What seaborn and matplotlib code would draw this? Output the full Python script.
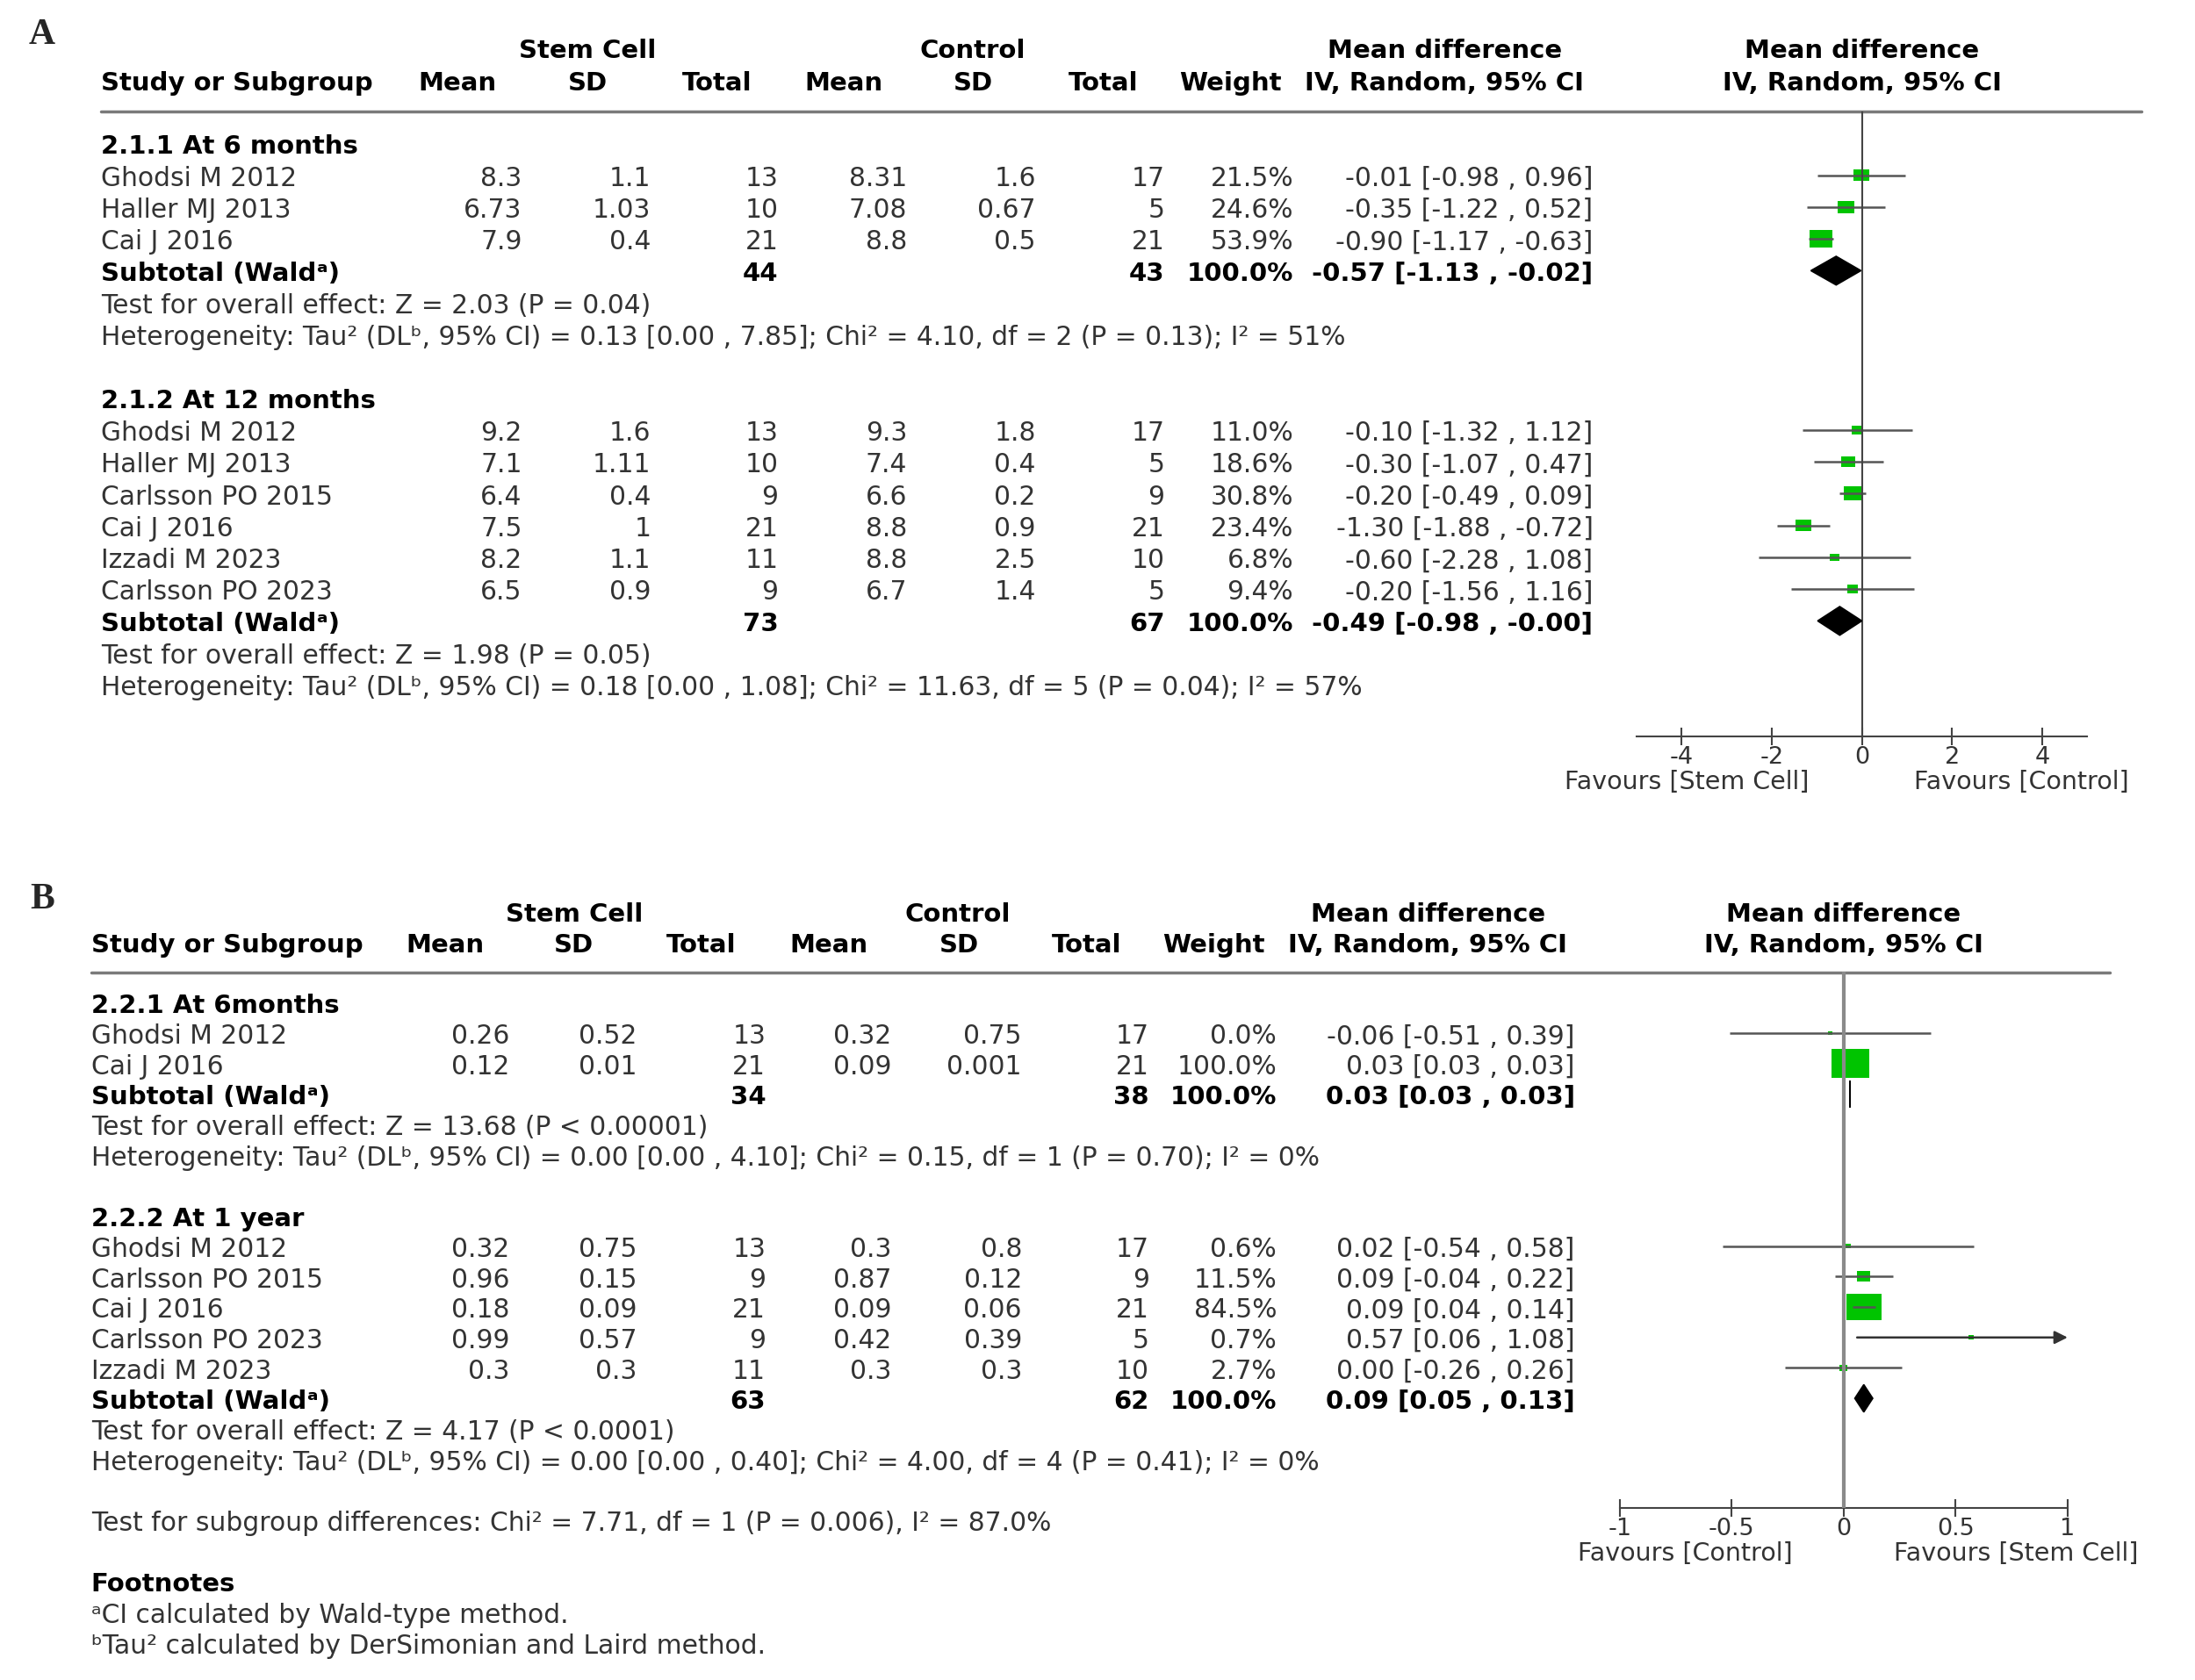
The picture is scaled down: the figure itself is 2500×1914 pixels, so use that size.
import pandas as pd
import seaborn as sns
import matplotlib.pyplot as plt
from matplotlib.path import Path
from matplotlib.transforms import blended_transform_factory

sns.set_theme(style="white")
plt.rcParams['font.family'] = ['DejaVu Sans']
plt.rcParams['axes.unicode_minus'] = False

# grid of the reference picture, only used to place things
W, H = 1568, 1201
FS = 21.4
FSB = 21
INK = '#333333'
GREEN = '#00c400'
DY = 0.08  # small downward nudge of text rows

# ---------------- panel A: HbA1c ----------------
a_groups = ["2.1.1 At 6 months", "2.1.2 At 12 months"]
a_grp = [0, 0, 0, 1, 1, 1, 1, 1, 1]
a_study = ["Ghodsi M 2012", "Haller MJ 2013", "Cai J 2016",
           "Ghodsi M 2012", "Haller MJ 2013", "Carlsson PO 2015",
           "Cai J 2016", "Izzadi M 2023", "Carlsson PO 2023"]
a_sc_mean = [8.3, 6.73, 7.9, 9.2, 7.1, 6.4, 7.5, 8.2, 6.5]
a_sc_sd = [1.1, 1.03, 0.4, 1.6, 1.11, 0.4, 1, 1.1, 0.9]
a_sc_n = [13, 10, 21, 13, 10, 9, 21, 11, 9]
a_ct_mean = [8.31, 7.08, 8.8, 9.3, 7.4, 6.6, 8.8, 8.8, 6.7]
a_ct_sd = [1.6, 0.67, 0.5, 1.8, 0.4, 0.2, 0.9, 2.5, 1.4]
a_ct_n = [17, 5, 21, 17, 5, 9, 21, 10, 5]
a_weight = [21.5, 24.6, 53.9, 11.0, 18.6, 30.8, 23.4, 6.8, 9.4]
a_md = [-0.01, -0.35, -0.90, -0.10, -0.30, -0.20, -1.30, -0.60, -0.20]
a_lo = [-0.98, -1.22, -1.17, -1.32, -1.07, -0.49, -1.88, -2.28, -1.56]
a_hi = [0.96, 0.52, -0.63, 1.12, 0.47, 0.09, -0.72, 1.08, 1.16]
a_sub_md = [-0.57, -0.49]
a_sub_lo = [-1.13, -0.98]
a_sub_hi = [-0.02, -0.00]
a_overall = ["Z = 2.03 (P = 0.04)", "Z = 1.98 (P = 0.05)"]
a_het = ["Heterogeneity: Tau² (DLᵇ, 95% CI) = 0.13 [0.00 , 7.85]; Chi² = 4.10, df = 2 (P = 0.13); I² = 51%",
         "Heterogeneity: Tau² (DLᵇ, 95% CI) = 0.18 [0.00 , 1.08]; Chi² = 11.63, df = 5 (P = 0.04); I² = 57%"]

# ---------------- panel B: C-peptide ----------------
b_groups = ["2.2.1 At 6months", "2.2.2 At 1 year"]
b_grp = [0, 0, 1, 1, 1, 1, 1]
b_study = ["Ghodsi M 2012", "Cai J 2016",
           "Ghodsi M 2012", "Carlsson PO 2015", "Cai J 2016",
           "Carlsson PO 2023", "Izzadi M 2023"]
b_sc_mean = [0.26, 0.12, 0.32, 0.96, 0.18, 0.99, 0.3]
b_sc_sd = [0.52, 0.01, 0.75, 0.15, 0.09, 0.57, 0.3]
b_sc_n = [13, 21, 13, 9, 21, 9, 11]
b_ct_mean = [0.32, 0.09, 0.3, 0.87, 0.09, 0.42, 0.3]
b_ct_sd = [0.75, 0.001, 0.8, 0.12, 0.06, 0.39, 0.3]
b_ct_n = [17, 21, 17, 9, 21, 5, 10]
b_weight = [0.0, 100.0, 0.6, 11.5, 84.5, 0.7, 2.7]
b_md = [-0.06, 0.03, 0.02, 0.09, 0.09, 0.57, 0.00]
b_lo = [-0.51, 0.03, -0.54, -0.04, 0.04, 0.06, -0.26]
b_hi = [0.39, 0.03, 0.58, 0.22, 0.14, 1.08, 0.26]
b_sub_md = [0.03, 0.09]
b_sub_lo = [0.03, 0.05]
b_sub_hi = [0.03, 0.13]
b_overall = ["Z = 13.68 (P < 0.00001)", "Z = 4.17 (P < 0.0001)"]
b_het = ["Heterogeneity: Tau² (DLᵇ, 95% CI) = 0.00 [0.00 , 4.10]; Chi² = 0.15, df = 1 (P = 0.70); I² = 0%",
         "Heterogeneity: Tau² (DLᵇ, 95% CI) = 0.00 [0.00 , 0.40]; Chi² = 4.00, df = 4 (P = 0.41); I² = 0%"]
b_subgroup_test = "Test for subgroup differences: Chi² = 7.71, df = 1 (P = 0.006), I² = 87.0%"

footnotes = ["ᵃCI calculated by Wald-type method.",
             "ᵇTau² calculated by DerSimonian and Laird method."]

col_heads = ['Mean', 'SD', 'Total', 'Mean', 'SD', 'Total', 'Weight']

box = Path([(-1.3, -1), (1.3, -1), (1.3, 1), (-1.3, 1), (-1.3, -1)],
           [Path.MOVETO, Path.LINETO, Path.LINETO, Path.LINETO, Path.CLOSEPOLY])


def layout_rows(grp, n_groups):
    study_rows, head_rows, sub_rows = [], [], []
    r = 0
    for g in range(n_groups):
        head_rows.append(r)
        k = grp.count(g)
        study_rows += list(range(r + 1, r + 1 + k))
        sub_rows.append(r + 1 + k)
        r = r + k + 5
    return study_rows, head_rows, sub_rows, r


def draw_panel(fig, lay, groups, grp, study, cols, weight, md, lo, hi,
               sub_md, sub_lo, sub_hi, overall, het):
    study_rows, head_rows, sub_rows, end = layout_rows(grp, len(groups))
    y0, step = lay['y0'], lay['step']
    x0, x1 = lay['xaxis']
    ax = fig.add_axes([x0 / W, 1 - lay['ybot'] / H, (x1 - x0) / W,
                       (lay['ybot'] - lay['ytop']) / H])
    ax.patch.set_alpha(0)
    tr = blended_transform_factory(fig.transFigure, ax.transData)

    def put(x, r, s, ha='right', bold=False, color=INK):
        ax.text(x / W, r + DY, s, transform=tr, ha=ha, va='center',
                fontsize=FSB if bold else FS,
                fontweight='bold' if bold else 'normal', color=color)

    # header
    put(lay['stem_x'], -3, 'Stem Cell', 'center', True, 'black')
    put(lay['ctrl_x'], -3, 'Control', 'center', True, 'black')
    put(lay['ci_x'], -3, 'Mean difference', 'center', True, 'black')
    put(lay['fp_x'], -3, 'Mean difference', 'center', True, 'black')
    put(lay['study_x'], -2, 'Study or Subgroup', 'left', True, 'black')
    for x, s in zip(lay['head_x'], col_heads):
        put(x, -2, s, 'center', True, 'black')
    put(lay['ci_x'], -2, 'IV, Random, 95% CI', 'center', True, 'black')
    put(lay['fp_x'], -2, 'IV, Random, 95% CI', 'center', True, 'black')
    ax.plot([lay['study_x'] / W, lay['line_end'] / W], [-1, -1], transform=tr,
            color='#7a7a7a', lw=2.5, clip_on=False)

    # study rows
    for i, r in enumerate(study_rows):
        put(lay['study_x'], r, study[i], 'left')
        vals = [f"{c[i]:g}" for c in cols] + [f"{weight[i]:.1f}%"]
        for x, s in zip(lay['col_x'], vals):
            put(x, r, s)
        put(lay['ci_r'], r, f"{md[i]:.2f} [{lo[i]:.2f} , {hi[i]:.2f}]")

    # subgroup rows
    for g, r in enumerate(sub_rows):
        idx = [i for i in range(len(grp)) if grp[i] == g]
        put(lay['study_x'], head_rows[g], groups[g], 'left', True, 'black')
        put(lay['study_x'], r, 'Subtotal (Waldᵃ)', 'left', True, 'black')
        put(lay['col_x'][2], r, str(sum(cols[2][i] for i in idx)), bold=True, color='black')
        put(lay['col_x'][5], r, str(sum(cols[5][i] for i in idx)), bold=True, color='black')
        put(lay['col_x'][6], r, f"{sum(weight[i] for i in idx):.1f}%", bold=True, color='black')
        put(lay['ci_r'], r, f"{sub_md[g]:.2f} [{sub_lo[g]:.2f} , {sub_hi[g]:.2f}]",
            bold=True, color='black')
        put(lay['study_x'], r + 1, 'Test for overall effect: ' + overall[g], 'left')
        put(lay['study_x'], r + 2, het[g], 'left')

    # forest
    df = pd.DataFrame({'row': study_rows, 'md': md, 'lo': lo, 'hi': hi, 'weight': weight})
    xmax = lay['xlim'][1]
    inside = df[df.hi <= xmax]
    ax.hlines(inside.row, inside.lo, inside.hi, color='#555555', lw=1.8, zorder=4)
    for _, s in df[df.hi > xmax].iterrows():
        ax.annotate('', xy=(xmax, s.row), xytext=(s.lo, s.row), zorder=4,
                    arrowprops=dict(arrowstyle='-|>', color='#333333', lw=1.8,
                                    mutation_scale=22, shrinkA=0, shrinkB=0))
    sns.scatterplot(data=df, x='md', y='row', size='weight', sizes=lay['sizes'],
                    size_norm=(0, 100), marker=box, color=GREEN, linewidth=0,
                    legend=False, ax=ax, zorder=3)
    dh = 0.45
    for r, m, l, h in zip(sub_rows, sub_md, sub_lo, sub_hi):
        ax.fill([l, m, h, m], [r, r - dh, r, r + dh], facecolor='black',
                edgecolor='black', lw=1.2, zorder=5)
    ax.axvline(0, color=lay['zero_color'], lw=lay['zero_lw'], zorder=4)

    ax.set_xlim(lay['xlim'])
    ax.set_ylim((lay['ybot'] - y0) / step, (lay['ytop'] - y0) / step)
    ax.set_xticks(lay['ticks'])
    ax.set_xticklabels([f"{t:g}" for t in lay['ticks']])
    ax.set_yticks([])
    ax.set_xlabel('')
    ax.set_ylabel('')
    ax.tick_params(axis='x', direction='inout', length=14, width=1.5, color='#444444',
                   labelsize=19.5, labelcolor=INK, pad=0, bottom=True)
    sns.despine(ax=ax, left=True)
    ax.spines['bottom'].set_color('#444444')
    ax.spines['bottom'].set_linewidth(1.5)
    for x, s in lay['fav']:
        fig.text(x / W, 1 - lay['fav_y'] / H, s, ha='center', va='center',
                 fontsize=20.5, color=INK)
    return ax, tr, end


fig = plt.figure(figsize=(25, 19.15), dpi=100)

lay_a = dict(y0=103, step=22.75, ytop=80, ybot=527, xaxis=(1169, 1491), xlim=(-5, 5),
             ticks=[-4, -2, 0, 2, 4], study_x=72, line_end=1530, stem_x=420, ctrl_x=695,
             ci_x=1032, fp_x=1330, head_x=[327, 420, 512, 603, 695, 788, 879],
             col_x=[373, 465, 556, 648, 740, 832, 924], ci_r=1138, sizes=(20, 650),
             fav=[(1205, 'Favours [Stem Cell]'), (1444, 'Favours [Control]')], fav_y=559,
             zero_color='#444444', zero_lw=1.5)
lay_b = dict(y0=717, step=21.75, ytop=695, ybot=1078, xaxis=(1157, 1477), xlim=(-1, 1),
             ticks=[-1, -0.5, 0, 0.5, 1], study_x=65, line_end=1507, stem_x=410, ctrl_x=684,
             ci_x=1020, fp_x=1317, head_x=[318, 410, 501, 592, 685, 776, 867],
             col_x=[364, 455, 547, 637, 730, 821, 912], ci_r=1125, sizes=(15, 960),
             fav=[(1204, 'Favours [Control]'), (1440, 'Favours [Stem Cell]')], fav_y=1110,
             zero_color='#8a8a8a', zero_lw=3)

draw_panel(fig, lay_a, a_groups, a_grp, a_study,
           [a_sc_mean, a_sc_sd, a_sc_n, a_ct_mean, a_ct_sd, a_ct_n],
           a_weight, a_md, a_lo, a_hi, a_sub_md, a_sub_lo, a_sub_hi, a_overall, a_het)
axb, trb, end_b = draw_panel(fig, lay_b, b_groups, b_grp, b_study,
                             [b_sc_mean, b_sc_sd, b_sc_n, b_ct_mean, b_ct_sd, b_ct_n],
                             b_weight, b_md, b_lo, b_hi, b_sub_md, b_sub_lo, b_sub_hi,
                             b_overall, b_het)
axb.text(65 / W, end_b + DY, b_subgroup_test, transform=trb, ha='left', va='center',
         fontsize=FS, color=INK)

fig.text(30 / W, 1 - 25 / H, 'A', family='Liberation Serif', fontweight='bold',
         fontsize=30, ha='center', va='center')
fig.text(30 / W, 1 - 643 / H, 'B', family='Liberation Serif', fontweight='bold',
         fontsize=30, ha='center', va='center')

fig.text(65 / W, 1 - 1132 / H, 'Footnotes', fontweight='bold', fontsize=FSB,
         ha='left', va='center', color='black')
for k, s in enumerate(footnotes):
    fig.text(65 / W, 1 - (1154 + 22 * k) / H, s, fontsize=FS, ha='left',
             va='center', color=INK)

fig.savefig('out.png', dpi=100)
